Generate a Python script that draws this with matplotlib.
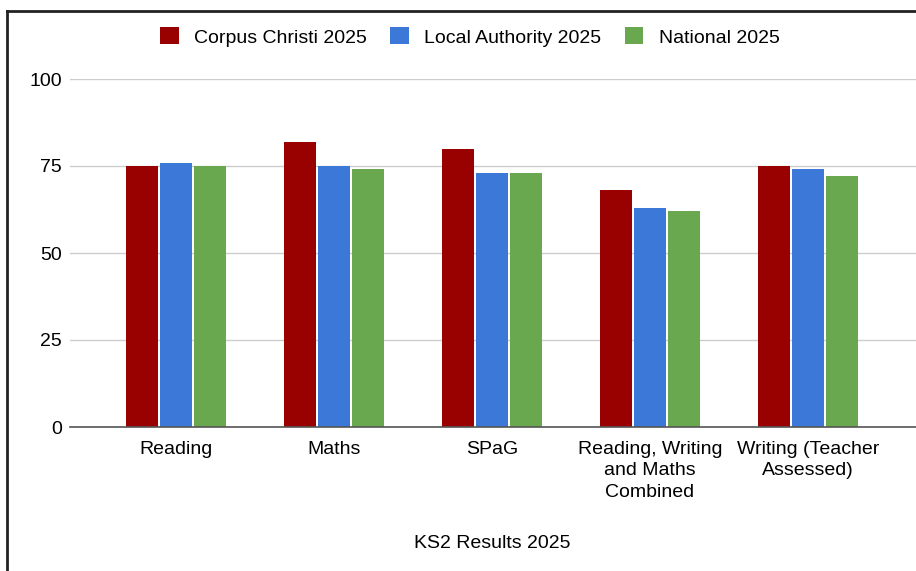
import numpy as np
import matplotlib
matplotlib.use('Agg')
import matplotlib.pyplot as plt
from matplotlib.lines import Line2D
from matplotlib.patches import Patch

# KS2 results, percentages
categories = ['Reading', 'Maths', 'SPaG', 'Reading, Writing\nand Maths\nCombined', 'Writing (Teacher\nAssessed)']
corpus_christi = [75, 82, 80, 68, 75]
local_authority = [76, 75, 73, 63, 74]
national = [75, 74, 73, 62, 72]
series_names = ['Corpus Christi 2025', 'Local Authority 2025', 'National 2025']
colors = ['#990000', '#3c78d8', '#6aa84f']

plt.rcParams['font.family'] = ['Liberation Sans', 'DejaVu Sans']
plt.rcParams['font.size'] = 14

fig = plt.figure(figsize=(9.16, 5.71), dpi=100)
ax = fig.add_axes([70 / 916, 144 / 571, 846 / 916, 348 / 571])

x = np.arange(len(categories))
width = 0.2
offsets = [-0.215, 0, 0.215]
for vals, off, c in zip([corpus_christi, local_authority, national], offsets, colors):
    ax.bar(x + off, vals, width, color=c, zorder=3)

ax.set_xlim(-0.67, 4.685)
ax.set_ylim(0, 100)
ax.set_yticks([0, 25, 50, 75, 100])
ax.grid(axis='y', color='#cccccc', linewidth=1, zorder=0)
for s in ['top', 'right', 'left']:
    ax.spines[s].set_visible(False)
ax.spines['bottom'].set_color('#555555')
ax.spines['bottom'].set_linewidth(1.2)
ax.spines['bottom'].set_zorder(4)
ax.tick_params(axis='both', length=0, colors='#000000')
ax.tick_params(axis='y', pad=6)
ax.tick_params(axis='x', pad=10)
ax.set_xticks(x)
ax.set_xticklabels(categories, linespacing=1.35, multialignment='center')

fig.text(492 / 916, 1 - 543 / 571, 'KS2 Results 2025', ha='center', va='center', fontsize=14)

handles = [Patch(facecolor=c, edgecolor='none') for c in colors]
fig.legend(handles, series_names, loc='center', bbox_to_anchor=(470 / 916, 1 - 37 / 571),
           ncol=3, frameon=False, handlelength=0.95, handleheight=0.95,
           handletextpad=0.8, columnspacing=1.2, fontsize=14)

# border of the chart (left and top edges visible)
fig.add_artist(Line2D([7 / 916, 7 / 916], [0, 1 - 11 / 571], transform=fig.transFigure,
                      color='#222222', linewidth=2))
fig.add_artist(Line2D([7 / 916, 1], [1 - 11 / 571, 1 - 11 / 571], transform=fig.transFigure,
                      color='#222222', linewidth=2))

fig.savefig('out.png', dpi=100)
